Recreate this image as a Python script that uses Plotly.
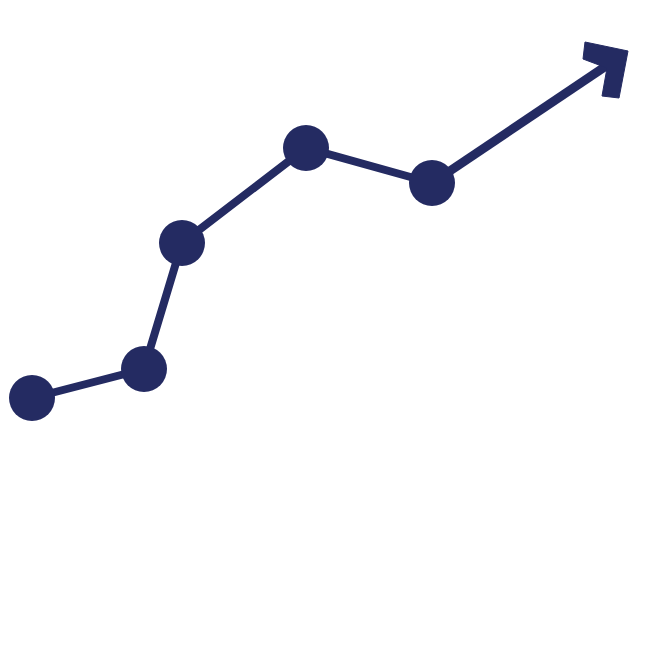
import plotly.graph_objects as go

# data points (x, y measured upward)
x_vals = [32, 144, 182, 306, 432]
y_vals = [257, 286, 412, 507, 472]
# trend arrow end
arrow_x = [432, 612]
arrow_y = [472, 593]
# arrow head outline
head_x = [585, 628, 619, 602, 607, 583, 585]
head_y = [613, 604, 557, 559, 587, 596, 613]

color = "#242b62"

fig = go.Figure()
fig.add_trace(go.Scatter(x=arrow_x, y=arrow_y, mode="lines",
                         line=dict(color=color, width=9), hoverinfo="skip"))
fig.add_trace(go.Scatter(x=head_x, y=head_y, mode="lines", fill="toself",
                         fillcolor=color, line=dict(color=color, width=1),
                         hoverinfo="skip"))
fig.add_trace(go.Scatter(x=x_vals, y=y_vals, mode="lines+markers",
                         line=dict(color=color, width=8),
                         marker=dict(color=color, size=46)))

fig.update_layout(width=655, height=655, margin=dict(l=0, r=0, t=0, b=0),
                  showlegend=False, paper_bgcolor="white", plot_bgcolor="white",
                  xaxis=dict(range=[8, 663], visible=False, fixedrange=True),
                  yaxis=dict(range=[-8, 647], visible=False, fixedrange=True))
fig.write_html("out.html")
